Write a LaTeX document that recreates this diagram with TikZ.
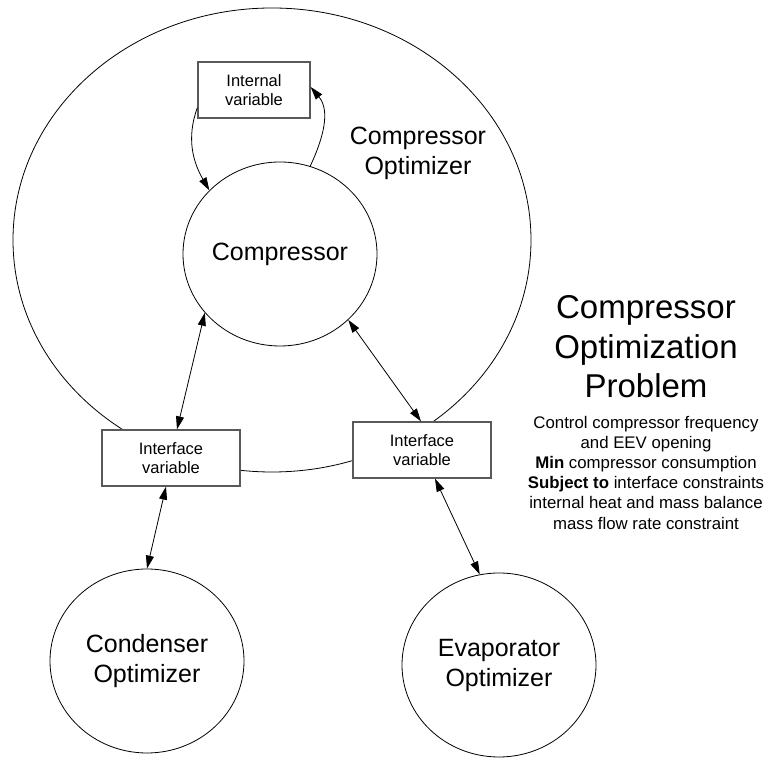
\documentclass[tikz,border=0pt]{standalone}
\usepackage{fontspec}
\setmainfont{Liberation Sans}
\usetikzlibrary{shapes.geometric,arrows.meta,positioning}

\begin{document}
\begin{tikzpicture}[
    x=1pt, y=1pt,
    opt/.style={ellipse, draw=black, line width=0.8pt, minimum width=194pt, minimum height=184pt, inner sep=0pt, align=center, font=\fontsize{25}{30}\selectfont},
    var/.style={rectangle, draw=black!65, line width=1.3pt, fill=white, minimum width=138pt, minimum height=56pt, inner sep=0pt, align=center, font=\fontsize{16.5}{19}\selectfont},
    arrow/.style={<->, >={Triangle[length=13pt,width=8pt]}, line width=0.8pt},
    loop/.style={->, >={Triangle[length=13pt,width=8pt]}, line width=0.8pt}
]
\useasboundingbox (0,0) rectangle (764,758);

% Optimizer boundary
\node[ellipse, draw=black, line width=0.8pt, minimum width=518pt, minimum height=464pt] (compopt) at (272,518) {};
\node[align=center, font=\fontsize{25}{30}\selectfont] (compoptlabel) at (418,605) {Compressor\\Optimizer};

% Components and variables
\node[opt] (comp) at (280,504) {Compressor};
\node[var, minimum width=112pt] (ivar) at (254,668) {Internal\\variable};
\node[var] (ifleft) at (171,300) {Interface\\variable};
\node[var] (ifright) at (422,308) {Interface\\variable};
\node[opt] (cond) at (147,97) {Condenser\\Optimizer};
\node[opt] (evap) at (499,93) {Evaporator\\Optimizer};

% Problem statement
\node[align=center, font=\fontsize{33}{39.5}\selectfont] (title) at (646,411) {Compressor\\Optimization\\Problem};
\node[align=center, font=\fontsize{16.8}{20.2}\selectfont] (problem) at (646,285.5) {
    Control compressor frequency\\
    and EEV opening\\
    \textbf{Min} compressor consumption\\
    \textbf{Subject to} interface constraints\\
    internal heat and mass balance\\
    mass flow rate constraint
};

% Internal loop
\draw[loop] ([yshift=11pt]ivar.south west) to[out=250,in=120] (comp.138);
\draw[loop] (comp.71) to[out=65,in=-50] ([yshift=3pt]ivar.east);

% Interface exchanges
\draw[arrow] (comp.218) -- ([xshift=6pt]ifleft.north);
\draw[arrow] (comp.316) -- ([xshift=-1pt]ifright.north);
\draw[arrow] ([xshift=-5pt]ifleft.south) -- (cond.north);
\draw[arrow] ([xshift=13pt]ifright.south) -- (evap.102);

\end{tikzpicture}
\end{document}
